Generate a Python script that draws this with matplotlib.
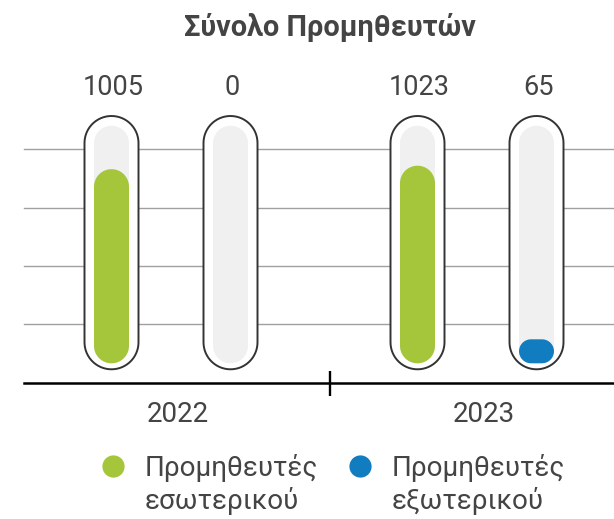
import matplotlib
matplotlib.use("Agg")
import matplotlib.pyplot as plt
from matplotlib.patches import FancyBboxPatch
from matplotlib.lines import Line2D
from matplotlib.path import Path
import numpy as np

# ---------------- data ----------------
title = "Σύνολο Προμηθευτών"
years = ["2022", "2023"]
domestic = [1005, 1023]          # Προμηθευτές εσωτερικού
foreign = [0, 65]                # Προμηθευτές εξωτερικού
series_labels = ["Προμηθευτές\nεσωτερικού", "Προμηθευτές\nεξωτερικού"]
TRACK_MAX = 1230                 # value that fills the whole track

# ---------------- style ----------------
GREEN = "#a5c53a"
BLUE = "#127cc1"
TRACK = "#f0f0f0"
TEXT = "#444444"
OUTLINE = "#333333"
GRID = "#a0a0a0"
FONT = ["Roboto", "DejaVu Sans"]
plt.rcParams["font.family"] = FONT

W, H, DPI = 614, 519, 100
fig = plt.figure(figsize=(W / DPI, H / DPI), dpi=DPI)

# layout (pixels, from top-left)
ax_left, ax_right = 24, 614
ax_bottom_px, ax_top_px = 382.5, 149.3
zero_px, full_px = 363.3, 125.7
group0_px, group_px = 171.0, 306.0
ax = fig.add_axes([ax_left / W, 1 - ax_bottom_px / H,
                   (ax_right - ax_left) / W, (ax_bottom_px - ax_top_px) / H])

upp = TRACK_MAX / (zero_px - full_px)          # y units per pixel
xpp = 1.0 / group_px                            # x units per pixel
ax.set_ylim(-(ax_bottom_px - zero_px) * upp, (zero_px - ax_top_px) * upp)
ax.set_xlim((ax_left - group0_px) * xpp, (ax_right - group0_px) * xpp)
aspect = upp / xpp

# gridlines
y0, y1 = ax.get_ylim()
ax.set_yticks(np.linspace(y0, y1, 5)[1:])
ax.yaxis.grid(True, color=GRID, lw=1.0)
ax.tick_params(axis="y", length=0, labelleft=False)
for s in ["left", "right", "top"]:
    ax.spines[s].set_visible(False)
ax.spines["bottom"].set_linewidth(1.8)
ax.spines["bottom"].set_color("black")
ax.set_axisbelow(True)
for gl in ax.yaxis.get_gridlines():
    gl.set_clip_on(False)

# single separator tick between the years
ax.set_xticks([0.52])
ax.set_xticklabels([""])
ax.tick_params(axis="x", direction="inout", length=18, width=1.7, color="black")


def stadium_style(x0, y0, width, height, mutation_size):
    """Box style with true circular corners (radius = half of the smaller side)."""
    r = min(width, height) / 2
    t = np.linspace(0, np.pi / 2, 16)
    pts = []
    # bottom-right, top-right, top-left, bottom-left corners
    for cx, cy, a0 in [(x0 + width - r, y0 + r, -np.pi / 2),
                       (x0 + width - r, y0 + height - r, 0),
                       (x0 + r, y0 + height - r, np.pi / 2),
                       (x0 + r, y0 + r, np.pi)]:
        ang = a0 + t
        pts.extend(zip(cx + r * np.cos(ang), cy + r * np.sin(ang)))
    pts.append(pts[0])
    return Path(np.array(pts), closed=True)


def pill(xc, ybot, ytop, width_px, **kw):
    w = width_px * xpp
    p = FancyBboxPatch((xc - w / 2, ybot), w, ytop - ybot,
                       boxstyle=stadium_style, mutation_aspect=aspect,
                       clip_on=False, **kw)
    ax.add_patch(p)
    return p


offset = 59.5 * xpp
MIN_FILL_PX = 24
for g, year in enumerate(years):
    for k, (vals, col) in enumerate([(domestic, GREEN), (foreign, BLUE)]):
        xc = g + (k - 0.5) * 2 * offset
        v = vals[g]
        # outer capsule
        pill(xc, -6 * upp, TRACK_MAX + 9.7 * upp, 54, facecolor="white",
             edgecolor=OUTLINE, lw=1.4, zorder=3)
        # track
        pill(xc, 0, TRACK_MAX, 35, facecolor=TRACK, edgecolor="none", zorder=4)
        # fill
        if v > 0:
            top = max(v, MIN_FILL_PX * upp)
            pill(xc, 0, top, 35, facecolor=col, edgecolor="none", zorder=5)
        # value label
        ax.annotate(f"{v}", xy=(xc + 2 * xpp, 1), xycoords=("data", "axes fraction"),
                    xytext=(0, (ax_top_px - 87) * 0.72), textcoords="offset points",
                    ha="center", va="center", fontsize=19.5, color=TEXT)
    ax.annotate(year, xy=(g + 6.5 * xpp, 0), xycoords=("data", "axes fraction"),
                xytext=(0, -(415 - ax_bottom_px) * 0.72), textcoords="offset points",
                ha="center", va="center", fontsize=20, color=TEXT)

# title
fig.text(329.5 / W, 1 - 27 / H, title, ha="center", va="center",
         fontsize=20.8, fontweight="bold", color=TEXT)

# legend (manual so marker aligns with the first text line)
for (mx, tx), lab, col in zip([(113, 145), (360, 392)], series_labels, [GREEN, BLUE]):
    fig.add_artist(Line2D([mx / W], [1 - 466 / H], marker="o", markersize=16,
                          color=col, markeredgewidth=0, transform=fig.transFigure))
    fig.text(tx / W, 1 - 509 / H, lab, ha="left", va="baseline", fontsize=20,
             color=TEXT, linespacing=1.23)

fig.savefig("out.png", dpi=DPI)
